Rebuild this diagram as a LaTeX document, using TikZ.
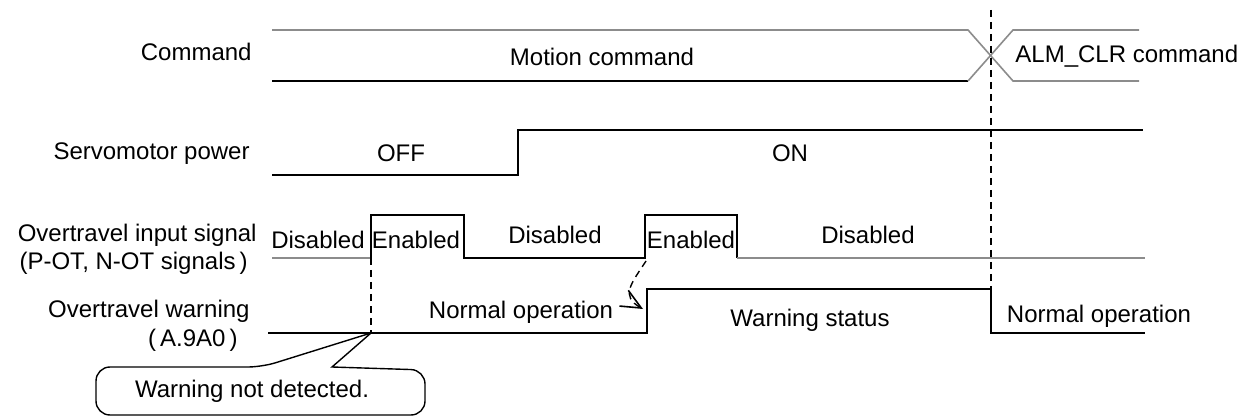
\documentclass[tikz,border=0pt]{standalone}
\usepackage{fontspec}
\setmainfont{Liberation Sans}
\usetikzlibrary{arrows.meta,calc}
\tikzset{
  sig/.style={line width=0.8pt,line join=miter},
  bus/.style={line width=0.8pt,black!45},
  cue/.style={line width=0.6pt,dash pattern=on 3.5pt off 2.5pt},
  lbl/.style={inner sep=0pt,font=\fontsize{12}{14}\selectfont}
}

\begin{document}
\begin{tikzpicture}[x=0.5pt,y=-0.5pt]
  \useasboundingbox (0,0) rectangle (1245,416);
  % edges used more than once
  \coordinate (rise1) at (371,258);
  \coordinate (rise2) at (645,258);
  \coordinate (warnup) at (647,308);
  \coordinate (clr) at (991,289);
  \coordinate (tip) at (371,333);
  % row labels
  \node[lbl,anchor=east] (cmd) at (252,52) {Command};
  \node[lbl,anchor=east] (pwr) at (250,154) {Servomotor power};
  \node[lbl,anchor=east] (otin) at (257,235) {Overtravel input signal};
  \node[lbl,anchor=east] (otsig) at (248,263) {(P-OT, N-OT signals\,)};
  \node[lbl,anchor=east] (otw) at (250,311) {Overtravel warning};
  \node[lbl,anchor=east] (otcode) at (238,340) {(\,A.9A0\,)};
  % command
  \draw[bus] (272,30) -- (968,30) -- (1013,81) -- (1139,81);
  \draw[sig] (272,81) -- (968,81);
  \draw[bus] (968,81) -- (1013,30) -- (1139,30);
  \node[lbl] (motion) at (602,57) {Motion command};
  \node[lbl,anchor=west] (almclr) at (1015,56) {ALM\_CLR command};
  % servomotor power
  \draw[sig] (272,175) -- (518,175) -- (518,130) -- (1143,130);
  \node[lbl] (off) at (401,153) {OFF};
  \node[lbl] (on) at (790,153) {ON};
  % overtravel input
  \draw[bus] (272,258) -- (rise1);
  \draw[sig] (rise1) -- (371,215) -- (464,215) -- (464,258) -- (rise2)
    -- (645,215) -- (737,215) -- (737,258);
  \draw[bus] (737,258) -- (1145,258);
  \node[lbl] (dis1) at (318,240) {Disabled};
  \node[lbl] (en1) at (416,240) {Enabled};
  \node[lbl] (dis2) at (555,235) {Disabled};
  \node[lbl] (en2) at (691,240) {Enabled};
  \node[lbl] (dis3) at (868,235) {Disabled};
  % overtravel warning
  \draw[sig] (268,333) -- (647,333) -- (647,289) -- (clr) -- (991,333) -- (1145,333);
  \node[lbl] (norm1) at (521,312) {Normal operation};
  \node[lbl] (warn) at (810,320) {Warning status};
  \node[lbl] (norm2) at (1099,316) {Normal operation};
  % cues
  \draw[cue] (991,10) -- (clr);
  \draw[cue] (rise1) -- (tip);
  \draw[cue,line width=0.7pt,-{Straight Barb[length=10pt,width=9pt,line width=0.8pt]}]
    ($(rise2)+(1,3)$) .. controls (631,284) and (620,296) .. ($(warnup)+(-4,1)$);
  % callout
  \draw[line width=0.7pt] (tip) -- (332,367) [rounded corners=7] -- (425,370)
    -- (425,415) -- (96,415) -- (96,367) -- (262,367) [sharp corners] -- (tip);
  \node[lbl] (nodet) at (252,391) {Warning not detected.};
\end{tikzpicture}
\end{document}
